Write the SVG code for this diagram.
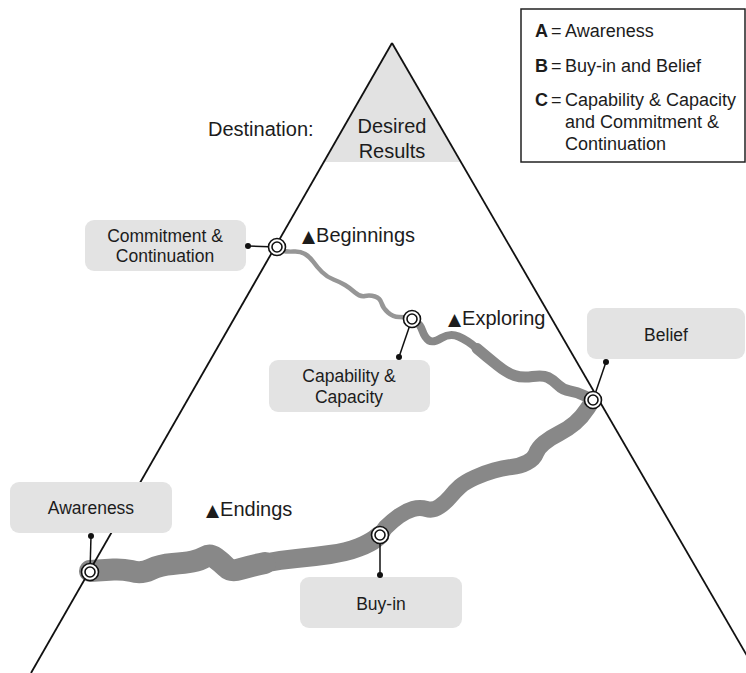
<svg xmlns="http://www.w3.org/2000/svg" width="746" height="673" viewBox="0 0 746 673">
<defs>
<style>
text{font-family:"Liberation Sans",Arial,sans-serif;fill:#1c1c1c}
.lbl{font-size:17.5px;text-anchor:middle}
.big{font-size:20px}
.box{fill:#e3e3e3}
.edge{fill:none;stroke:#111;stroke-width:1.8}
.band{fill:none;stroke:#888;stroke-linecap:round;stroke-linejoin:round}
.thin{fill:none;stroke:#969696;stroke-width:4.5;stroke-linecap:round;stroke-linejoin:round}
.lead{stroke:#111;stroke-width:1.5}
.dot{fill:#111}
.ring{fill:#fff;stroke:#111;stroke-width:1.6}
.tri{font-family:"DejaVu Sans",sans-serif;font-size:17px}
</style>
</defs>
<rect width="746" height="673" fill="#fff"/>

<g id="destination">
<polygon points="392,43 323.8,162 460.9,162" fill="#e2e2e2"/>
<text class="big" x="208" y="136">Destination:</text>
<text class="big" x="392" y="133" text-anchor="middle">Desired</text>
<text class="big" x="392" y="158" text-anchor="middle">Results</text>
</g>

<g id="legend">
<rect x="521" y="9" width="224" height="153" fill="#fff" stroke="#222" stroke-width="1.5"/>
<text font-size="18"><tspan x="535" y="37" font-weight="bold">A</tspan><tspan x="551" y="37">=</tspan><tspan x="565" y="37">Awareness</tspan></text>
<text font-size="18"><tspan x="535" y="72" font-weight="bold">B</tspan><tspan x="551" y="72">=</tspan><tspan x="565" y="72">Buy-in and Belief</tspan></text>
<text font-size="18"><tspan x="535" y="106" font-weight="bold">C</tspan><tspan x="551" y="106">=</tspan><tspan x="565" y="106">Capability &amp; Capacity</tspan><tspan x="565" y="128">and Commitment &amp;</tspan><tspan x="565" y="150">Continuation</tspan></text>
</g>

<g id="connectors">
<path class="thin" d="M277,249 L282,250.5 Q287,252 293.5,251.5 Q300,251 305,254 Q310,257 313.5,262 Q317,267 322,272 Q327,277 333.5,279.5 Q340,282 345,285 Q350,288 355,292.5 Q360,297 365,296 Q370,295 375,296.5 Q380,298 381.5,303 Q383,308 388,312.5 Q393,317 399,317 Q405,317 408.5,318 L412,319"/>
<path class="band" stroke-width="8" d="M412,320 L416,322 Q420,324 422.5,331 Q425,338 429,340.5 Q433,343 441.5,338 Q450,333 458.5,336.5 Q467,340 477,348.5"/>
<path class="band" stroke-width="11" d="M477,348.5 Q487,357 497,365 Q507,373 514.5,375.5 Q522,378 532.5,376.5 Q543,375 548,377.5 Q553,380 558,385 Q563,390 570,391 Q577,392 585,396 L593,400"/>
<path class="band" stroke-width="16" d="M593,400 L587.5,408.5 Q582,417 575,423 Q568,429 559,433.5 Q550,438 544,443 Q538,448 536,453.5 Q534,459 527,462.5 Q520,466 511.5,467 Q503,468 494,470.5 Q485,473 475,477.5 Q465,482 460,486.5 Q455,491 450.5,496.5 Q446,502 439.5,506.5 Q433,511 426.5,509 Q420,507 413,509 Q406,511 399,516 Q392,521 385.5,527.5 L380,535"/>
<path class="band" stroke-width="19" d="M265,563 Q280,560 296.5,558.5 Q313,557 330,554.5 Q347,552 358.5,547.5 Q370,543 375,539 L380,535"/>
<path class="band" stroke-width="22" d="M90,571 L97.5,570.5 Q105,570 113.5,569.5 Q122,569 131.5,571 Q141,574 150.5,569.5 Q160,565 172.5,564 Q185,563 192.5,561.5 Q200,560 205,557 Q210,554 215.5,558 Q221,562 226,567 Q231,572 240.5,569 Q250,566 265,563"/>
<line class="edge" x1="392" y1="43" x2="31" y2="673"/>
<line class="edge" x1="392" y1="43" x2="757" y2="673"/>
<line class="lead" x1="248" y1="246" x2="277" y2="247"/>
<line class="lead" x1="399" y1="357" x2="412" y2="319"/>
<line class="lead" x1="606" y1="362" x2="593" y2="400"/>
<line class="lead" x1="91" y1="536" x2="90" y2="572"/>
<line class="lead" x1="380" y1="575" x2="380" y2="535"/>
</g>

<g id="commitment">
<rect class="box" x="85" y="220" width="161" height="51" rx="9"/>
<text class="lbl" x="165" y="242">Commitment &amp;</text>
<text class="lbl" x="165" y="262">Continuation</text>
<circle class="dot" cx="248" cy="246" r="3"/>
<circle class="ring" cx="277" cy="247" r="8.5"/><circle class="ring" cx="277" cy="247" r="5"/>
</g>

<g id="capability">
<rect class="box" x="269" y="360" width="161" height="52" rx="9"/>
<text class="lbl" x="349" y="382">Capability &amp;</text>
<text class="lbl" x="349" y="403">Capacity</text>
<circle class="dot" cx="399" cy="357" r="3"/>
<circle class="ring" cx="412" cy="319" r="8.5"/><circle class="ring" cx="412" cy="319" r="5"/>
</g>

<g id="belief">
<rect class="box" x="587" y="308" width="158" height="51" rx="9"/>
<text class="lbl" x="666" y="341">Belief</text>
<circle class="dot" cx="606" cy="362" r="3"/>
<circle class="ring" cx="593" cy="400" r="8.5"/><circle class="ring" cx="593" cy="400" r="5"/>
</g>

<g id="awareness">
<rect class="box" x="10" y="482" width="162" height="51" rx="9"/>
<text class="lbl" x="91" y="514">Awareness</text>
<circle class="dot" cx="91" cy="536" r="3"/>
<circle class="ring" cx="90" cy="572" r="8.5"/><circle class="ring" cx="90" cy="572" r="5"/>
</g>

<g id="buyin">
<rect class="box" x="300" y="577" width="162" height="51" rx="9"/>
<text class="lbl" x="381" y="610">Buy-in</text>
<circle class="dot" cx="380" cy="575" r="3"/>
<circle class="ring" cx="380" cy="535" r="8.5"/><circle class="ring" cx="380" cy="535" r="5"/>
</g>

<g id="phases">
<text class="big" x="302" y="242"><tspan class="tri">▲</tspan><tspan dx="1">Beginnings</tspan></text>
<text class="big" x="448" y="325"><tspan class="tri">▲</tspan><tspan dx="1">Exploring</tspan></text>
<text class="big" x="206" y="516"><tspan class="tri">▲</tspan><tspan dx="1">Endings</tspan></text>
</g>
</svg>
